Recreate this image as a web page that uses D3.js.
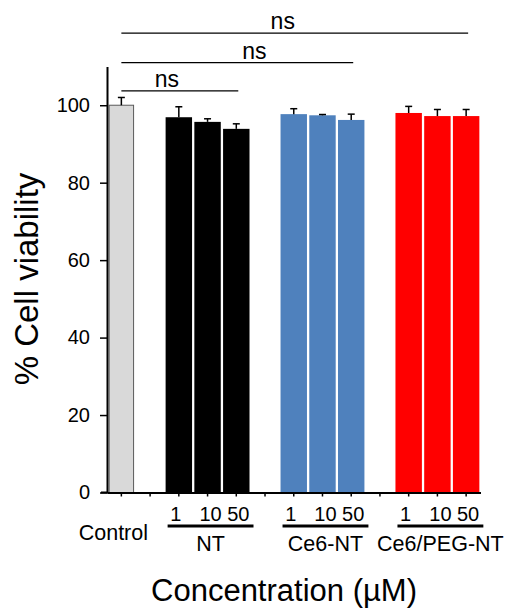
<!DOCTYPE html>
<html>
<head>
<meta charset="utf-8">
<script src="https://cdn.jsdelivr.net/npm/d3@7"></script>
<style>
  body { margin: 0; background: #fff; }
  svg { display: block; font-family: Arial, "Liberation Sans", sans-serif; }
</style>
</head>
<body>
<div id="chart"></div>
<script>
const width = 517;
const height = 610;

// slots along the x axis, blanks are gaps between groups
const slots = ['Control', 'gap1', 'NT-1', 'NT-10', 'NT-50', 'gap2',
               'Ce6-NT-1', 'Ce6-NT-10', 'Ce6-NT-50', 'gap3',
               'PEG-1', 'PEG-10', 'PEG-50'];

const barKeys = ['Control', 'NT-1', 'NT-10', 'NT-50',
                 'Ce6-NT-1', 'Ce6-NT-10', 'Ce6-NT-50',
                 'PEG-1', 'PEG-10', 'PEG-50'];
const viability = [100, 96.9, 95.7, 93.9, 97.7, 97.4, 96.2, 98.0, 97.2, 97.2];
const errors = [2.0, 2.7, 0.8, 1.3, 1.4, 0.2, 1.5, 1.7, 1.7, 1.7];
const barGroup = ['Control', 'NT', 'NT', 'NT', 'Ce6-NT', 'Ce6-NT', 'Ce6-NT',
                  'Ce6/PEG-NT', 'Ce6/PEG-NT', 'Ce6/PEG-NT'];

const groups = ['NT', 'Ce6-NT', 'Ce6/PEG-NT'];
const groupSlots = [['NT-1', 'NT-50'], ['Ce6-NT-1', 'Ce6-NT-50'], ['PEG-1', 'PEG-50']];
const concLabels = ['1', '10', '50'];

const yTicks = [0, 20, 40, 60, 80, 100];

// significance brackets: from slot, to slot, height in %
const compFrom = ['Control', 'Control', 'Control'];
const compTo = ['NT-50', 'Ce6-NT-50', 'PEG-50'];
const compLevel = [103.7, 111, 118.6];
const compText = ['ns', 'ns', 'ns'];

const colors = {
  'Control': '#d9d9d9',
  'NT': '#000000',
  'Ce6-NT': '#4f81bd',
  'Ce6/PEG-NT': '#ff0000'
};

const svg = d3.select('#chart')
  .append('svg')
  .attr('width', width)
  .attr('height', height);

const x = d3.scaleBand()
  .domain(slots)
  .range([107, 480.5])
  .paddingInner(0.08)
  .paddingOuter(0.04);

const y = d3.scaleLinear()
  .domain([0, 110])
  .range([492.5, 66.5]);

const cx = s => x(s) + x.bandwidth() / 2;

// bars
const bars = barKeys.map((k, i) => ({key: k, v: viability[i], e: errors[i], g: barGroup[i]}));

svg.selectAll('rect.bar')
  .data(bars)
  .enter()
  .append('rect')
  .attr('class', 'bar')
  .attr('x', d => d.g === 'Control' ? x(d.key) + 1 : x(d.key))
  .attr('y', d => y(d.v))
  .attr('width', d => d.g === 'Control' ? x.bandwidth() - 2 : x.bandwidth())
  .attr('height', d => y(0) - y(d.v))
  .attr('fill', d => colors[d.g])
  .attr('stroke', d => d.g === 'Control' ? '#595959' : 'none')
  .attr('stroke-width', 1);

// error bars (upper only)
const eb = svg.selectAll('g.err')
  .data(bars)
  .enter()
  .append('g')
  .attr('class', 'err')
  .attr('stroke', '#000')
  .attr('stroke-width', 1.5);

eb.append('line')
  .attr('x1', d => cx(d.key))
  .attr('x2', d => cx(d.key))
  .attr('y1', d => y(d.v))
  .attr('y2', d => y(d.v + d.e));

eb.append('line')
  .attr('x1', d => cx(d.key) - 3.5)
  .attr('x2', d => cx(d.key) + 3.5)
  .attr('y1', d => y(d.v + d.e))
  .attr('y2', d => y(d.v + d.e));

// y axis
const yAxis = d3.axisLeft(y)
  .tickValues(yTicks)
  .tickSize(7)
  .tickSizeOuter(0)
  .tickPadding(10);

const gy = svg.append('g')
  .attr('transform', 'translate(107,0)')
  .call(yAxis);
gy.select('.domain').attr('stroke-width', 2);
gy.selectAll('.tick line').attr('stroke-width', 1.5);
gy.selectAll('.tick text')
  .style('font-size', '20px')
  .attr('fill', '#000');

// x axis, ticks at every slot, no labels
const xAxis = d3.axisBottom(x)
  .tickSize(4)
  .tickSizeOuter(0)
  .tickFormat('');

const gx = svg.append('g')
  .attr('transform', 'translate(0,' + y(0) + ')')
  .call(xAxis);
gx.select('.domain').attr('stroke-width', 2);
gx.selectAll('.tick line').attr('stroke-width', 1.5);

svg.append('line')
  .attr('x1', 101).attr('x2', 108)
  .attr('y1', y(0)).attr('y2', y(0))
  .attr('stroke', '#000')
  .attr('stroke-width', 2);

// concentration labels under each group
const concDx = [-3, 3, 2];
groupSlots.forEach(gs => {
  const i0 = slots.indexOf(gs[0]);
  concLabels.forEach((c, j) => {
    svg.append('text')
      .attr('x', cx(slots[i0 + j]) + concDx[j])
      .attr('y', 521)
      .attr('text-anchor', 'middle')
      .style('font-size', '20px')
      .text(c);
  });
});

// group underlines and names
groups.forEach((g, i) => {
  const x1 = x(groupSlots[i][0]) + 2;
  const x2 = x(groupSlots[i][1]) + x.bandwidth() + 4;
  svg.append('line')
    .attr('x1', x1).attr('x2', x2)
    .attr('y1', 526).attr('y2', 526)
    .attr('stroke', '#000')
    .attr('stroke-width', 3);
  svg.append('text')
    .attr('x', (x1 + x2) / 2)
    .attr('y', 551)
    .attr('text-anchor', 'middle')
    .style('font-size', '21.5px')
    .text(g);
});

svg.append('text')
  .attr('x', cx('Control') - 8)
  .attr('y', 540)
  .attr('text-anchor', 'middle')
  .style('font-size', '21.5px')
  .text('Control');

// significance brackets
const nsDx = [-13, 17, -12];
compText.forEach((t, i) => {
  const x1 = cx(compFrom[i]);
  const x2 = cx(compTo[i]) + 2;
  const ly = y(compLevel[i]);
  svg.append('line')
    .attr('x1', x1).attr('x2', x2)
    .attr('y1', ly).attr('y2', ly)
    .attr('stroke', '#000')
    .attr('stroke-width', 1.2);
  svg.append('text')
    .attr('x', (x1 + x2) / 2 + nsDx[i])
    .attr('y', ly - 4)
    .attr('text-anchor', 'middle')
    .style('font-size', '23px')
    .text(t);
});

// axis titles
svg.append('text')
  .attr('transform', 'translate(38,279) rotate(-90)')
  .attr('text-anchor', 'middle')
  .style('font-size', '33px')
  .text('% Cell viability');

svg.append('text')
  .attr('x', 284)
  .attr('y', 601)
  .attr('text-anchor', 'middle')
  .style('font-size', '31px')
  .text('Concentration (µM)');
</script>
</body>
</html>
